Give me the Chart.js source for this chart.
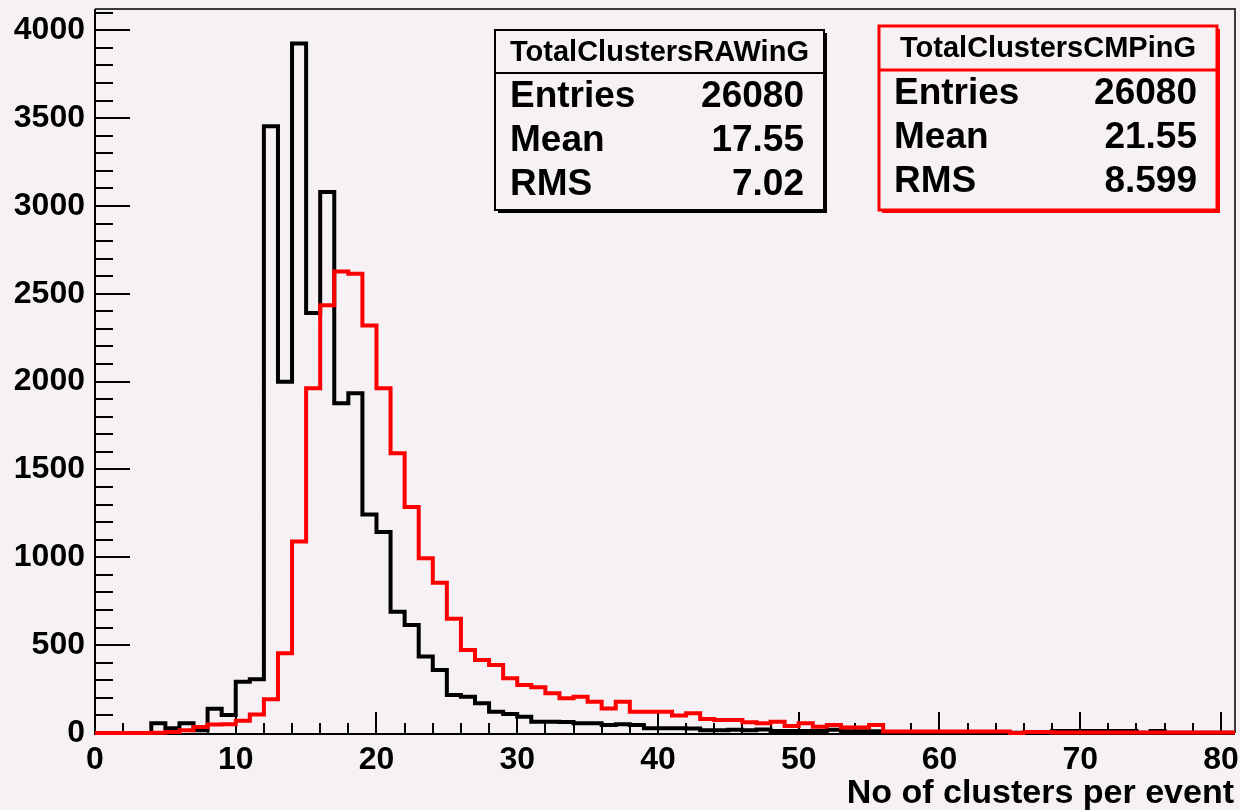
<!DOCTYPE html>
<html>
<head>
<meta charset="utf-8">
<title>TotalClusters RAW vs CMP</title>
<script src="https://cdn.jsdelivr.net/npm/chart.js@4.4.1/dist/chart.umd.min.js"></script>
<style>
  html, body { margin: 0; padding: 0; background: #f5f1f5; }
  #wrap { width: 1240px; height: 810px; }
</style>
</head>
<body>
<div id="wrap"><canvas id="grafico"></canvas></div>
<script>
// Borde inferior de cada bin (ancho 1) y borde superior del último
const inicioBin = [
  0, 1, 2, 3, 4, 5, 6, 7, 8, 9,
  10, 11, 12, 13, 14, 15, 16, 17, 18, 19,
  20, 21, 22, 23, 24, 25, 26, 27, 28, 29,
  30, 31, 32, 33, 34, 35, 36, 37, 38, 39,
  40, 41, 42, 43, 44, 45, 46, 47, 48, 49,
  50, 51, 52, 53, 54, 55, 56, 57, 58, 59,
  60, 61, 62, 63, 64, 65, 66, 67, 68, 69,
  70, 71, 72, 73, 74, 75, 76, 77, 78, 79,
  80
];
const finHist = 81;

// Cuentas por bin
const cuentasRAW = [
  0, 0, 0, 0, 55, 27, 55, 15, 138, 102,
  292, 306, 3453, 2000, 3925, 2390, 3079, 1877, 1934, 1244,
  1144, 690, 615, 435, 359, 216, 207, 169, 121, 108,
  93, 64, 64, 62, 55, 55, 45, 50, 45, 27,
  27, 27, 25, 15, 15, 18, 15, 20, 12, 12,
  12, 12, 18, 10, 10, 10, 5, 5, 5, 5,
  5, 5, 5, 5, 5, 2, 2, 2, 12, 12,
  12, 12, 12, 12, 2, 12, 2, 2, 2, 2,
  2
];
const cuentasCMP = [
  0, 0, 0, 0, 2, 5, 15, 34, 48, 50,
  70, 105, 192, 454, 1090, 1963, 2435, 2627, 2614, 2320,
  1963, 1593, 1287, 995, 855, 650, 473, 416, 387, 311,
  273, 260, 226, 198, 207, 178, 140, 178, 121, 121,
  121, 99, 112, 80, 74, 74, 61, 55, 64, 40,
  55, 36, 45, 32, 32, 45, 8, 8, 8, 8,
  8, 8, 8, 8, 8, 0, 5, 5, 3, 3,
  3, 3, 3, 3, 3, 3, 3, 3, 3, 3,
  3
];

// Etiquetas de los ejes
const etiquetasX = [0, 10, 20, 30, 40, 50, 60, 70, 80];
const etiquetasY = [0, 500, 1000, 1500, 2000, 2500, 3000, 3500, 4000];
const maxY = 4121;
const tituloX = 'No of clusters per event';

// Cajas de estadísticas
const nombresEstad = ['Entries', 'Mean', 'RMS'];
const valoresRAW = ['26080', '17.55', '7.02'];
const valoresCMP = ['26080', '21.55', '8.599'];

const fuente = "'Liberation Sans', Arial, Helvetica, sans-serif";
const fondo = '#f5f1f5';

// Convierte las cuentas en puntos con escalón (un punto por borde de bin)
function puntosHist(cuentas) {
  const pts = cuentas.map((v, i) => ({ x: inicioBin[i], y: v }));
  pts.push({ x: finHist, y: cuentas[cuentas.length - 1] });
  return pts;
}

// Marco, ejes y marcas hacia dentro (antes de los histogramas, como en ROOT)
const marco = {
  id: 'marco',
  beforeDatasetsDraw(chart) {
    const { ctx, chartArea: a, scales } = chart;
    ctx.save();
    ctx.lineWidth = 2;
    ctx.strokeStyle = '#3a3a3a';
    ctx.beginPath();
    ctx.moveTo(a.left, a.top);
    ctx.lineTo(a.right, a.top);
    ctx.lineTo(a.right, a.bottom);
    ctx.stroke();

    ctx.strokeStyle = '#000';
    ctx.beginPath();
    ctx.moveTo(a.left, a.top);
    ctx.lineTo(a.left, a.bottom + 1);
    ctx.lineTo(a.right, a.bottom + 1);
    for (let v = 0; v <= 80; v += 2) {
      const px = Math.round(scales.x.getPixelForValue(v));
      const largo = v % 10 === 0 ? 21 : 10;
      ctx.moveTo(px, a.bottom);
      ctx.lineTo(px, a.bottom - largo);
    }
    for (let v = 0; v <= maxY; v += 100) {
      const py = Math.round(scales.y.getPixelForValue(v));
      const largo = v % 500 === 0 ? 35 : 18;
      ctx.moveTo(a.left, py);
      ctx.lineTo(a.left + largo, py);
    }
    ctx.stroke();
    ctx.restore();
  }
};

function dibujarCaja(ctx, caja, color, grosor, titulo, valores) {
  const { x, y, w, h, div } = caja;
  ctx.save();
  // sombra
  ctx.fillStyle = color;
  ctx.fillRect(x + 3, y + 3, w, h);
  ctx.fillStyle = fondo;
  ctx.fillRect(x, y, w, h);
  ctx.strokeStyle = color;
  ctx.lineWidth = grosor;
  ctx.strokeRect(x, y, w, h);
  ctx.beginPath();
  ctx.moveTo(x, div);
  ctx.lineTo(x + w, div);
  ctx.stroke();

  ctx.fillStyle = '#000';
  ctx.textBaseline = 'middle';
  ctx.textAlign = 'center';
  ctx.font = 'bold 29px ' + fuente;
  ctx.fillText(titulo, x + w / 2, (y + div) / 2 + 1);

  ctx.font = 'bold 37px ' + fuente;
  nombresEstad.forEach((nombre, i) => {
    const fy = div + 24 + i * 44;
    ctx.textAlign = 'left';
    ctx.fillText(nombre, x + 15, fy);
    ctx.textAlign = 'right';
    ctx.fillText(valores[i], x + w - 20, fy);
  });
  ctx.restore();
}

const textosYCajas = {
  id: 'textosYCajas',
  afterDraw(chart) {
    const ctx = chart.ctx;
    dibujarCaja(ctx, { x: 495, y: 30, w: 329, h: 180, div: 73 }, '#000', 2, 'TotalClustersRAWinG', valoresRAW);
    dibujarCaja(ctx, { x: 879, y: 26, w: 338, h: 184, div: 70 }, '#ff0000', 3, 'TotalClustersCMPinG', valoresCMP);

    // título del eje X
    ctx.save();
    ctx.fillStyle = '#000';
    ctx.font = 'bold 34px ' + fuente;
    ctx.textAlign = 'right';
    ctx.textBaseline = 'alphabetic';
    ctx.fillText(tituloX, chart.chartArea.right - 1, 803);
    ctx.restore();
  }
};

new Chart(document.getElementById('grafico'), {
  type: 'line',
  data: {
    datasets: [
      {
        label: 'TotalClustersCMPinG',
        data: puntosHist(cuentasCMP),
        borderColor: '#ff0000',
        borderWidth: 4,
        stepped: true,
        pointRadius: 0,
        fill: false,
        borderJoinStyle: 'miter',
        clip: false,
        order: 0
      },
      {
        label: 'TotalClustersRAWinG',
        data: puntosHist(cuentasRAW),
        borderColor: '#000000',
        borderWidth: 4,
        stepped: true,
        pointRadius: 0,
        fill: false,
        borderJoinStyle: 'miter',
        clip: false,
        order: 1
      }
    ]
  },
  options: {
    responsive: true,
    maintainAspectRatio: false,
    animation: false,
    devicePixelRatio: 1,
    layout: { padding: { top: 9, right: 5, left: 0, bottom: 0 } },
    plugins: {
      legend: { display: false },
      tooltip: { enabled: false }
    },
    scales: {
      x: {
        type: 'linear',
        min: 0,
        max: finHist,
        grid: { display: false, drawTicks: false },
        border: { display: false },
        ticks: {
          color: '#000',
          font: { family: fuente, size: 32, weight: 'bold' },
          padding: 8,
          maxRotation: 0,
          autoSkip: false,
          callback: v => String(v)
        },
        afterBuildTicks: s => { s.ticks = etiquetasX.map(v => ({ value: v })); },
        afterFit: s => {
          s.height = 77;
          s.paddingLeft = 0;
          s.paddingRight = 0;
        }
      },
      y: {
        min: 0,
        max: maxY,
        grid: { display: false, drawTicks: false },
        border: { display: false },
        ticks: {
          color: '#000',
          font: { family: fuente, size: 32, weight: 'bold' },
          padding: 10,
          callback: v => String(v)
        },
        afterBuildTicks: s => { s.ticks = etiquetasY.map(v => ({ value: v })); },
        afterFit: s => {
          s.width = 95;
          s.paddingTop = 0;
          s.paddingBottom = 0;
        }
      }
    }
  },
  plugins: [marco, textosYCajas]
});
</script>
</body>
</html>
